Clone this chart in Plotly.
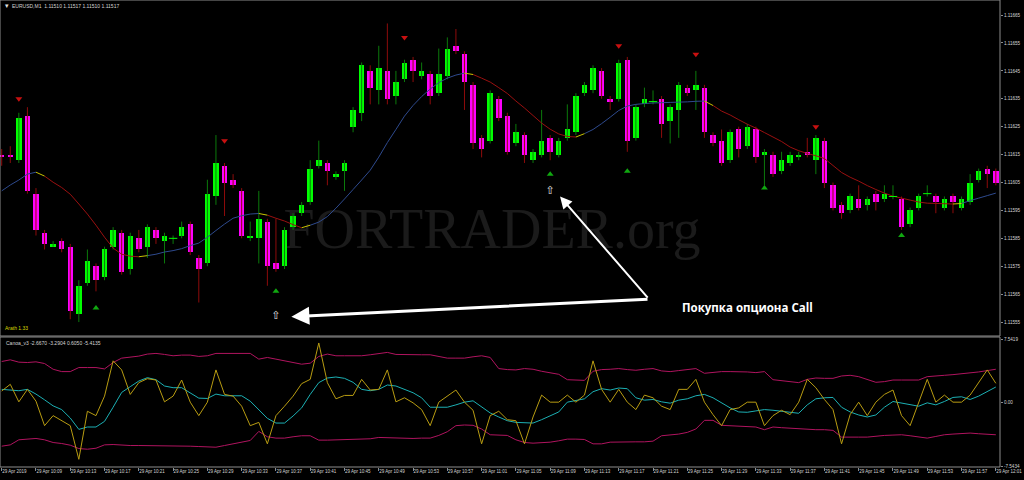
import plotly.graph_objects as go

# ---------------- data (EURUSD M1, 29 Apr 2019 10:05 - 12:01) ----------------
opens = [1.11615, 1.11615, 1.11613, 1.11629, 1.11601, 1.11587, 1.11582, 1.11584, 1.11582, 1.11558,
         1.11569, 1.11575, 1.11571, 1.11582, 1.11587, 1.11574, 1.11585, 1.11582, 1.11588, 1.11584,
         1.11585, 1.11586, 1.11590, 1.11578, 1.11576, 1.11600, 1.11611, 1.11606, 1.11602, 1.11585,
         1.11585, 1.11591, 1.11576, 1.11575, 1.11589, 1.11594, 1.11598, 1.11611, 1.11612, 1.11607,
         1.11609, 1.11625, 1.11630, 1.11645, 1.11638, 1.11645, 1.11636, 1.11642, 1.11649, 1.11643,
         1.11644, 1.11637, 1.11643, 1.11654, 1.11651, 1.11640, 1.11621, 1.11620, 1.11635, 1.11629,
         1.11619, 1.11622, 1.11613, 1.11615, 1.11621, 1.11615, 1.11621, 1.11623, 1.11637, 1.11638,
         1.11645, 1.11635, 1.11635, 1.11649, 1.11621, 1.11633, 1.11634, 1.11635, 1.11627, 1.11631,
         1.11639, 1.11638, 1.11639, 1.11622, 1.11620, 1.11613, 1.11624, 1.11618, 1.11624, 1.11615,
         1.11615, 1.11609, 1.11612, 1.11614, 1.11616, 1.11613, 1.11620, 1.11604, 1.11597, 1.11595,
         1.11599, 1.11597, 1.11601, 1.11599, 1.11600, 1.11599, 1.11590, 1.11596, 1.11601, 1.11600,
         1.11596, 1.11600, 1.11596, 1.11598, 1.11606, 1.11610, 1.11609]
highs = [1.11617, 1.11618, 1.11630, 1.11632, 1.11603, 1.11588, 1.11584, 1.11585, 1.11583, 1.11570,
         1.11581, 1.11576, 1.11582, 1.11589, 1.11588, 1.11587, 1.11588, 1.11590, 1.11589, 1.11587,
         1.11586, 1.11591, 1.11591, 1.11579, 1.11606, 1.11622, 1.11612, 1.11608, 1.11603, 1.11591,
         1.11602, 1.11592, 1.11592, 1.11589, 1.11594, 1.11598, 1.11613, 1.11620, 1.11613, 1.11609,
         1.11613, 1.11632, 1.11648, 1.11647, 1.11654, 1.11662, 1.11645, 1.11649, 1.11650, 1.11648,
         1.11645, 1.11653, 1.11657, 1.11660, 1.11652, 1.11641, 1.11622, 1.11638, 1.11636, 1.11630,
         1.11626, 1.11623, 1.11617, 1.11631, 1.11622, 1.11621, 1.11633, 1.11637, 1.11641, 1.11647,
         1.11646, 1.11636, 1.11649, 1.11650, 1.11633, 1.11639, 1.11638, 1.11636, 1.11633, 1.11641,
         1.11640, 1.11645, 1.11640, 1.11623, 1.11624, 1.11624, 1.11625, 1.11626, 1.11625, 1.11617,
         1.11616, 1.11616, 1.11616, 1.11616, 1.11621, 1.11622, 1.11621, 1.11605, 1.11598, 1.11601,
         1.11604, 1.11600, 1.11602, 1.11604, 1.11604, 1.11600, 1.11596, 1.11601, 1.11604, 1.11601,
         1.11600, 1.11601, 1.11600, 1.11608, 1.11610, 1.11611, 1.11610]
lows = [1.11611, 1.11612, 1.11612, 1.11601, 1.11586, 1.11581, 1.11582, 1.11580, 1.11556, 1.11555,
        1.11568, 1.11566, 1.11570, 1.11581, 1.11572, 1.11572, 1.11580, 1.11578, 1.11583, 1.11576,
        1.11583, 1.11585, 1.11579, 1.11562, 1.11575, 1.11597, 1.11593, 1.11603, 1.11585, 1.11584,
        1.11576, 1.11568, 1.11573, 1.11574, 1.11588, 1.11593, 1.11597, 1.11610, 1.11604, 1.11606,
        1.11602, 1.11623, 1.11627, 1.11633, 1.11633, 1.11633, 1.11633, 1.11641, 1.11641, 1.11642,
        1.11633, 1.11636, 1.11642, 1.11651, 1.11631, 1.11617, 1.11614, 1.11619, 1.11627, 1.11615,
        1.11618, 1.11612, 1.11612, 1.11614, 1.11613, 1.11614, 1.11620, 1.11622, 1.11636, 1.11637,
        1.11635, 1.11631, 1.11634, 1.11616, 1.11620, 1.11632, 1.11633, 1.11621, 1.11619, 1.11621,
        1.11636, 1.11631, 1.11621, 1.11618, 1.11611, 1.11612, 1.11614, 1.11617, 1.11612, 1.11604,
        1.11607, 1.11608, 1.11611, 1.11613, 1.11614, 1.11608, 1.11603, 1.11595, 1.11592, 1.11594,
        1.11595, 1.11595, 1.11595, 1.11598, 1.11599, 1.11588, 1.11589, 1.11595, 1.11600, 1.11594,
        1.11595, 1.11594, 1.11595, 1.11597, 1.11605, 1.11603, 1.11604]
closes = [1.11614, 1.11614, 1.11628, 1.11602, 1.11588, 1.11583, 1.11583, 1.11581, 1.11559, 1.11568,
          1.11577, 1.11570, 1.11581, 1.11588, 1.11573, 1.11586, 1.11581, 1.11589, 1.11585, 1.11586,
          1.11585, 1.11589, 1.11580, 1.11574, 1.11601, 1.11612, 1.11605, 1.11604, 1.11586, 1.11586,
          1.11592, 1.11575, 1.11574, 1.11588, 1.11593, 1.11597, 1.11610, 1.11613, 1.11609, 1.11608,
          1.11612, 1.11631, 1.11647, 1.11639, 1.11646, 1.11635, 1.11641, 1.11648, 1.11645, 1.11645,
          1.11636, 1.11644, 1.11653, 1.11652, 1.11641, 1.11619, 1.11617, 1.11637, 1.11628, 1.11616,
          1.11623, 1.11615, 1.11616, 1.11620, 1.11616, 1.11620, 1.11624, 1.11636, 1.11640, 1.11646,
          1.11636, 1.11634, 1.11648, 1.11620, 1.11632, 1.11635, 1.11634, 1.11626, 1.11632, 1.11640,
          1.11637, 1.11640, 1.11623, 1.11619, 1.11612, 1.11623, 1.11617, 1.11625, 1.11614, 1.11616,
          1.11608, 1.11613, 1.11615, 1.11615, 1.11615, 1.11621, 1.11605, 1.11596, 1.11594, 1.11600,
          1.11596, 1.11599, 1.11598, 1.11601, 1.11600, 1.11589, 1.11595, 1.11600, 1.11601, 1.11598,
          1.11599, 1.11598, 1.11599, 1.11605, 1.11609, 1.11608, 1.11605]

ma_line = [1.116020, 1.116041, 1.116059, 1.116080, 1.116087, 1.116073, 1.116051, 1.116032, 1.116008, 1.115973,
           1.115937, 1.115897, 1.115854, 1.115815, 1.115793, 1.115786, 1.115784, 1.115788, 1.115793, 1.115801,
           1.115806, 1.115813, 1.115824, 1.115833, 1.115854, 1.115878, 1.115901, 1.115922, 1.115931, 1.115937,
           1.115939, 1.115933, 1.115922, 1.115912, 1.115899, 1.115888, 1.115897, 1.115908, 1.115928, 1.115958,
           1.115991, 1.116025, 1.116059, 1.116094, 1.116141, 1.116193, 1.116240, 1.116288, 1.116326, 1.116358,
           1.116385, 1.116408, 1.116424, 1.116435, 1.116442, 1.116437, 1.116424, 1.116410, 1.116390, 1.116369,
           1.116342, 1.116317, 1.116290, 1.116263, 1.116241, 1.116224, 1.116215, 1.116213, 1.116225, 1.116240,
           1.116261, 1.116284, 1.116308, 1.116324, 1.116330, 1.116333, 1.116335, 1.116336, 1.116337, 1.116338,
           1.116339, 1.116341, 1.116342, 1.116326, 1.116306, 1.116292, 1.116275, 1.116259, 1.116245, 1.116229,
           1.116213, 1.116197, 1.116177, 1.116164, 1.116154, 1.116146, 1.116136, 1.116111, 1.116086, 1.116069,
           1.116055, 1.116039, 1.116025, 1.116012, 1.116001, 1.115994, 1.115987, 1.115980, 1.115976, 1.115975,
           1.115974, 1.115973, 1.115975, 1.115985, 1.115994, 1.116003, 1.116012]

canoa_upper = [4.87, 5.07, 4.79, 4.75, 4.83, 4.63, 3.95, 3.67, 3.67, 4.15, 4.15, 4.15, 3.99, 4.75, 5.27,
               5.35, 5.51, 5.75, 5.83, 5.71, 5.55, 5.63, 5.63, 5.47, 5.55, 5.83, 5.83, 5.83, 5.83, 5.83,
               5.15, 5.35, 5.15, 4.95, 4.71, 4.55, 4.67, 5.47, 5.75, 5.55, 5.55, 5.55, 5.55, 5.67, 5.83,
               5.95, 5.71, 5.67, 5.67, 5.67, 5.67, 5.51, 5.27, 5.27, 5.27, 5.43, 5.55, 5.35, 4.03,
               3.91, 3.87, 4.03, 3.95, 3.71, 3.51, 3.35, 2.71, 2.63, 2.63, 3.71, 3.91, 3.95, 4.03, 3.91,
               3.83, 3.95, 4.03, 3.75, 3.67, 3.79, 3.91, 4.03, 3.47, 3.59, 3.67, 3.67, 3.67, 3.63, 3.55,
               3.67, 2.71, 2.60, 2.43, 2.36, 2.75, 2.91, 2.87, 2.87, 3.15, 3.23, 3.07, 2.75, 2.40, 2.48,
               2.67, 2.67, 2.67, 2.67, 3.07, 3.19, 3.23, 3.31, 3.39, 3.47, 3.63, 3.79, 3.95]
canoa_lower = [-5.19, -5.03, -4.43, -4.31, -4.27, -4.43, -4.75, -4.87, -5.07, -5.47, -5.55, -5.43, -5.03, -4.99, -5.07,
               -5.11, -5.11, -5.11, -5.15, -5.15, -5.15, -5.15, -5.19, -5.23, -5.27, -5.31, -5.11, -4.91, -4.71, -4.51,
               -3.43, -4.07, -4.23, -4.23, -4.07, -3.95, -3.95, -4.47, -4.47, -4.43, -4.43, -4.39, -4.35, -4.31, -4.15,
               -4.19, -4.27, -4.27, -4.27, -4.23, -4.23, -3.91, -3.47, -2.75, -2.67, -2.71, -3.15, -3.83, -3.91,
               -3.91, -4.43, -4.75, -4.83, -4.79, -4.71, -4.55, -4.35, -4.35, -4.39, -4.91, -4.91, -4.71, -4.67, -4.67,
               -4.67, -4.67, -4.59, -3.95, -3.87, -3.75, -3.55, -3.15, -2.12, -2.12, -2.71, -2.75, -2.79, -2.83, -2.91,
               -3.23, -2.91, -2.99, -3.07, -3.15, -3.19, -3.23, -3.23, -3.31, -4.11, -4.15, -4.11, -4.11, -3.99, -3.91,
               -3.87, -3.83, -3.95, -4.07, -4.23, -4.03, -3.83, -3.75, -3.67, -3.63, -3.71, -3.79, -3.83]
canoa_signal = [1.56, 1.44, 1.40, 1.56, 1.00, 0.32, -0.40, -0.84, -1.84, -3.19, -2.91, -2.91, -2.24, -0.56, 1.20,
                1.88, 2.55, 2.95, 2.71, 1.96, 1.76, 1.76, 1.16, 0.52, 0.48, 1.00, 0.80, 0.76, 0.80, 0.16,
                -0.84, -1.88, -2.44, -2.44, -1.60, -0.64, 0.96, 2.36, 2.91, 3.03, 2.87, 2.40, 1.56, 1.40, 1.56,
                2.08, 1.96, 1.56, 1.16, 0.56, -0.56, -0.56, -0.56, -0.28, 0.04, 0.20, -0.56, -1.24, -1.72,
                -2.16, -2.36, -2.44, -2.44, -2.04, -1.56, -1.12, 0.04, 0.28, 0.44, 1.28, 1.64, 1.48, 1.72, 1.64,
                0.56, 0.28, 0.36, 0.08, -0.08, 0.28, 0.44, 0.80, 0.96, 0.56, -0.04, -0.64, -1.12, -1.16, -1.00,
                -0.84, -0.92, -1.04, -1.20, -1.28, -0.28, 0.44, 0.56, 0.60, -0.56, -1.12, -1.48, -1.72, -1.48, -0.56,
                0.12, -0.08, -0.28, -0.44, -0.04, -0.28, 0.12, 0.60, 0.68, 0.36, 0.76, 1.32, 1.84]
canoa_fast = [1.36, 2.16, 0.08, 1.56, 0.16, -2.75, -1.56, -2.16, -2.75, -6.75, -1.04, -1.56, 0.76, 4.95, 3.87,
              0.96, 2.36, 2.83, 2.67, 0.08, 0.76, 2.67, 0.04, -1.56, 0.04, 3.87, 0.96, 0.76, -0.44, -2.75,
              -2.36, -4.91, -1.56, -0.44, 0.76, 2.24, 2.75, 7.07, 2.36, 0.44, 0.84, 0.84, 2.75, 1.48, 1.56,
              3.87, 0.08, 0.56, -0.04, -0.84, -2.75, 0.04, 0.76, 1.48, 0.04, -0.92, -4.91, -1.56, -1.04,
              -2.04, -2.16, -4.91, -1.72, 0.88, 0.04, 0.04, 0.88, 0.04, 0.88, 4.95, 1.56, 0.04, 1.56, 0.04,
              -0.84, 0.88, 0.56, -0.44, -0.84, 1.56, 1.56, 2.75, 0.04, -1.44, -2.75, -0.84, -0.64, 0.04, 0.04,
              -2.75, -1.56, -0.92, -1.44, 0.04, 2.75, 1.76, 0.36, -0.84, -4.91, -1.44, 0.04, -1.56, 0.04, 0.96,
              1.48, -1.56, -2.75, 0.04, 2.75, 0.04, 0.88, 0.04, 0.04, 0.88, 2.36, 3.87, 2.28]

sell_idx = [2, 26, 47, 72, 81, 95]
sell_price = [1.11635, 1.11620, 1.11657, 1.11654, 1.11651, 1.11625]
buy_idx = [11, 32, 64, 73, 89, 105]
buy_price = [1.11560, 1.11566, 1.11608, 1.11609, 1.11603, 1.11586]
entry_idx = [32, 64]
entry_price = [1.11557, 1.11602]

time_tick_idx = list(range(0, 117, 4))
time_tick_labels = ["29 Apr 2019", "29 Apr 10:09", "29 Apr 10:13", "29 Apr 10:17", "29 Apr 10:21",
                    "29 Apr 10:25", "29 Apr 10:29", "29 Apr 10:33", "29 Apr 10:37", "29 Apr 10:41",
                    "29 Apr 10:45", "29 Apr 10:49", "29 Apr 10:53", "29 Apr 10:57", "29 Apr 11:01",
                    "29 Apr 11:05", "29 Apr 11:09", "29 Apr 11:13", "29 Apr 11:17", "29 Apr 11:21",
                    "29 Apr 11:25", "29 Apr 11:29", "29 Apr 11:33", "29 Apr 11:37", "29 Apr 11:41",
                    "29 Apr 11:45", "29 Apr 11:49", "29 Apr 11:53", "29 Apr 11:57", "29 Apr 12:01"]
price_ticks = [1.11555, 1.11565, 1.11575, 1.11585, 1.11595, 1.11605,
               1.11615, 1.11625, 1.11635, 1.11645, 1.11655, 1.11665]
canoa_ticks = [7.5419, 0.0, -7.5434]
canoa_tick_labels = ["7.5419", "0.00", "-7.5434"]

# ---------------- figure ----------------
W, H = 1024, 480
ML, MR, MT, MB = 0, 24, 0, 13
PW, PH = W - ML - MR, H - MT - MB
MAIN_BOTTOM_PX, SUB_TOP_PX = 336, 337


def xp(px):
    return (px - ML) / PW


def yp(py):
    return (H - MB - py) / PH


n = len(opens)
idx = list(range(n))
bull = [i for i in idx if closes[i] >= opens[i]]
bear = [i for i in idx if closes[i] < opens[i]]
doji = [i for i in idx if closes[i] == opens[i]]

GREEN, PINK = "#00ff00", "#ff00ff"
GREEN_WICK, PINK_WICK = "#0b7a0b", "#8e0b0b"

fig = go.Figure()


def wick_xy(sel):
    xs, ys = [], []
    for i in sel:
        xs += [i, i, None]
        ys += [lows[i], highs[i], None]
    return xs, ys


for sel, col in ((bull, GREEN_WICK), (bear, PINK_WICK)):
    wx, wy = wick_xy(sel)
    fig.add_trace(go.Scatter(x=wx, y=wy, mode="lines", line=dict(color=col, width=1),
                             hoverinfo="skip", xaxis="x", yaxis="y"))

# moving average, coloured by direction (yellow at turns)
dirs = [1 if ma_line[k + 1] >= ma_line[k] else -1 for k in range(n - 1)]
seg = {"#2e4a8e": ([], []), "#9a1010": ([], []), "#c8c400": ([], [])}
for k in range(n - 1):
    if k > 0 and dirs[k] != dirs[k - 1]:
        c = "#c8c400"
    else:
        c = "#2e4a8e" if dirs[k] > 0 else "#9a1010"
    seg[c][0].extend([k, k + 1, None])
    seg[c][1].extend([ma_line[k], ma_line[k + 1], None])
for c, (sx, sy) in seg.items():
    fig.add_trace(go.Scatter(x=sx, y=sy, mode="lines", line=dict(color=c, width=1),
                             hoverinfo="skip", xaxis="x", yaxis="y"))

# candle bodies
for sel, col in ((bull, GREEN), (bear, PINK)):
    fig.add_trace(go.Bar(x=sel,
                         base=[min(opens[i], closes[i]) for i in sel],
                         y=[abs(closes[i] - opens[i]) for i in sel],
                         width=0.64, marker=dict(color=col, line=dict(width=0)),
                         hoverinfo="skip", xaxis="x", yaxis="y"))
fig.add_trace(go.Scatter(x=doji, y=[closes[i] for i in doji], mode="markers",
                         marker=dict(symbol="line-ew", size=6, line=dict(width=1, color=GREEN)),
                         hoverinfo="skip", xaxis="x", yaxis="y"))

# signal arrows
fig.add_trace(go.Scatter(x=sell_idx, y=sell_price, mode="markers",
                         marker=dict(symbol="triangle-down", size=6, color="#c81010"),
                         hoverinfo="skip", xaxis="x", yaxis="y"))
fig.add_trace(go.Scatter(x=buy_idx, y=buy_price, mode="markers",
                         marker=dict(symbol="triangle-up", size=6, color="#10a810"),
                         hoverinfo="skip", xaxis="x", yaxis="y"))
fig.add_trace(go.Scatter(x=entry_idx, y=entry_price, mode="text", text=["\u21e7\ufe0e"] * len(entry_idx),
                         textfont=dict(family="DejaVu Sans", size=11, color="#e0e0e0"),
                         hoverinfo="skip", xaxis="x", yaxis="y"))

# Canoa indicator
for vals, col in ((canoa_upper, "#b0145f"), (canoa_lower, "#b0145f"),
                  (canoa_signal, "#1cb0b4"), (canoa_fast, "#b89c12")):
    fig.add_trace(go.Scatter(x=idx, y=vals, mode="lines", line=dict(color=col, width=1),
                             hoverinfo="skip", xaxis="x", yaxis="y2"))

AXC = "#8c8c8c"
TXT = "#d4d4d4"
FONT = "Liberation Sans"

x_lo = (0 - 1.7) / 8.57
x_hi = (PW - 1.7) / 8.57

fig.update_layout(
    width=W, height=H, autosize=False,
    margin=dict(l=ML, r=MR, t=MT, b=MB, pad=0),
    paper_bgcolor="black", plot_bgcolor="black",
    showlegend=False, barmode="overlay", bargap=0,
    font=dict(family=FONT, color=TXT, size=5),
    xaxis=dict(domain=[0, 1], range=[x_lo, x_hi], anchor="y2",
               tickvals=time_tick_idx, ticktext=time_tick_labels, tickangle=0,
               ticks="outside", ticklen=3, tickcolor=AXC, tickwidth=1,
               ticklabelposition="outside right",
               tickfont=dict(family=FONT, size=4.5, color=TXT),
               showgrid=False, zeroline=False, showline=False),
    yaxis=dict(domain=[yp(MAIN_BOTTOM_PX), 1], range=[1.115500, 1.116704], side="right", anchor="x",
               tickvals=price_ticks, ticktext=["%.5f" % v for v in price_ticks], tickangle=0,
               ticks="outside", ticklen=2, tickcolor=AXC,
               tickfont=dict(family=FONT, size=4.6, color=TXT),
               showgrid=False, zeroline=False, showline=False),
    yaxis2=dict(domain=[0, yp(SUB_TOP_PX)], range=[-7.66, 7.78], side="right", anchor="x",
                tickvals=canoa_ticks, ticktext=canoa_tick_labels, tickangle=0,
                ticks="outside", ticklen=2, tickcolor=AXC,
                tickfont=dict(family=FONT, size=4.6, color=TXT),
                showgrid=False, zeroline=False, showline=False),
)

shapes = [
    dict(type="rect", xref="paper", yref="paper", x0=0, x1=1, y0=yp(MAIN_BOTTOM_PX), y1=1,
         line=dict(color=AXC, width=1), layer="above"),
    dict(type="rect", xref="paper", yref="paper", x0=0, x1=1, y0=0, y1=yp(SUB_TOP_PX),
         line=dict(color=AXC, width=1), layer="above"),
    dict(type="rect", xref="paper", yref="paper", x0=xp(272), x1=xp(712), y0=yp(250), y1=yp(195),
         line=dict(width=0), fillcolor="rgba(0,0,0,0)", layer="below",
         label=dict(text="FORTRADER.org", textposition="middle center",
                    font=dict(family="Liberation Serif", size=56, color="#1b1b1b"))),
]
fig.update_layout(shapes=shapes)

ann = [
    dict(xref="paper", yref="paper", x=xp(3), y=yp(6), text="▾", showarrow=False,
         xanchor="left", yanchor="middle", font=dict(size=7, color="#e0e0e0")),
    dict(xref="paper", yref="paper", x=xp(10), y=yp(6), text="EURUSD,M1  1.11510 1.11517 1.11510 1.11517",
         showarrow=False, xanchor="left", yanchor="middle", font=dict(family=FONT, size=5, color=TXT)),
    dict(xref="paper", yref="paper", x=xp(3), y=yp(328), text="Arath 1.33",
         showarrow=False, xanchor="left", yanchor="middle", font=dict(family=FONT, size=5, color="#d8d800")),
    dict(xref="paper", yref="paper", x=xp(4), y=yp(343), text="Canoa_v3 -2.6670 -3.2904 0.6050 -5.4135",
         showarrow=False, xanchor="left", yanchor="middle", font=dict(family=FONT, size=5, color=TXT)),
    # call annotation arrows
    dict(xref="x", yref="y", x=33.8, y=1.115569, axref="x", ayref="y", ax=75.53, ay=1.115632,
         text="", showarrow=True, arrowhead=2, arrowsize=1.2, arrowwidth=3, arrowcolor="white"),
    dict(xref="x", yref="y", x=65.15, y=1.116000, axref="x", ayref="y", ax=75.53, ay=1.115632,
         text="", showarrow=True, arrowhead=2, arrowsize=1.2, arrowwidth=2, arrowcolor="white"),
    dict(xref="x", yref="y", x=87.03, y=1.115603, text="<b>Покупка опциона Call</b>", showarrow=False,
         xanchor="center", yanchor="middle", font=dict(family="Open Sans", size=11.5, color="white")),
]
fig.update_layout(annotations=ann)

fig.write_html("out.html",
               config={"displayModeBar": False},
               post_script="document.body.style.margin='0px';document.body.style.padding='0px';"
                           "document.body.style.overflow='hidden';")
